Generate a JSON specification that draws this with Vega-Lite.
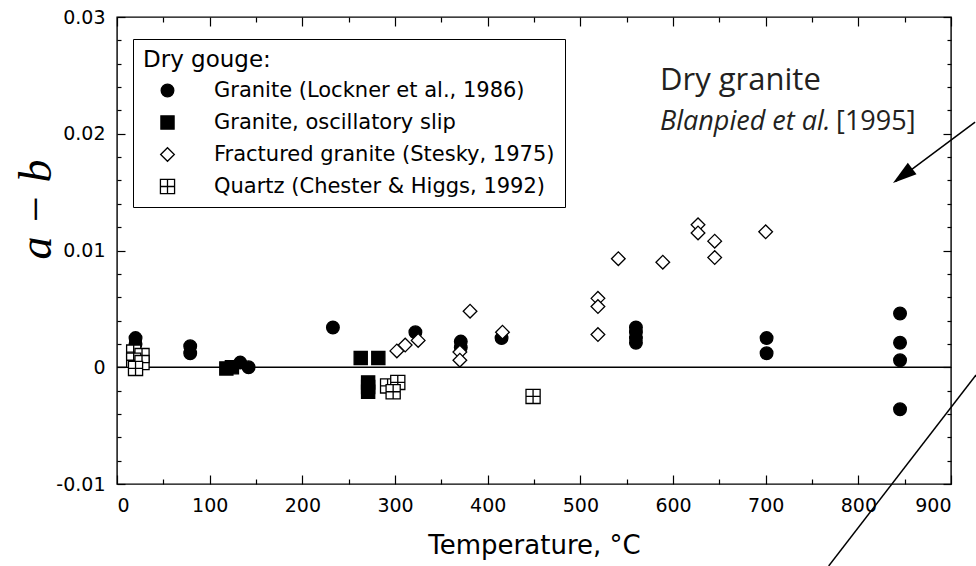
{
  "$schema": "https://vega.github.io/schema/vega-lite/v6.json",
  "width": 834,
  "height": 467,
  "autosize": {"type": "none"},
  "padding": {"left": 117, "top": 17, "right": 25, "bottom": 82},
  "background": "white",
  "config": {
    "view": {"stroke": "black", "strokeWidth": 1.4},
    "axis": {"grid": false, "domain": false, "labelFont": "DejaVu Sans", "labelFontSize": 19, "labelColor": "black", "tickColor": "black", "tickWidth": 1.2, "titleColor": "black"},
    "legend": {"titleFont": "DejaVu Sans", "titleFontSize": 23, "titleFontWeight": "normal", "titleColor": "black", "titlePadding": 8,
      "labelFont": "DejaVu Sans", "labelFontSize": 21, "labelColor": "black", "labelLimit": 600, "symbolOffset": 14, "labelOffset": 36, "rowPadding": 10, "padding": 10,
      "symbolStrokeColor": "black", "symbolStrokeWidth": 1.3, "fillColor": "white", "strokeColor": "black", "cornerRadius": 0}
  },
  "datasets": {
    "pts": [
      {"x": 20, "y": 0.0025, "series": "Granite (Lockner et al., 1986)"},
      {"x": 20, "y": 0.002, "series": "Granite (Lockner et al., 1986)"},
      {"x": 79, "y": 0.0018, "series": "Granite (Lockner et al., 1986)"},
      {"x": 79, "y": 0.0012, "series": "Granite (Lockner et al., 1986)"},
      {"x": 133, "y": 0.0004, "series": "Granite (Lockner et al., 1986)"},
      {"x": 142, "y": 0.0, "series": "Granite (Lockner et al., 1986)"},
      {"x": 233, "y": 0.0034, "series": "Granite (Lockner et al., 1986)"},
      {"x": 322, "y": 0.003, "series": "Granite (Lockner et al., 1986)"},
      {"x": 371, "y": 0.0022, "series": "Granite (Lockner et al., 1986)"},
      {"x": 371, "y": 0.0017, "series": "Granite (Lockner et al., 1986)"},
      {"x": 415, "y": 0.0025, "series": "Granite (Lockner et al., 1986)"},
      {"x": 560, "y": 0.0034, "series": "Granite (Lockner et al., 1986)"},
      {"x": 560, "y": 0.003, "series": "Granite (Lockner et al., 1986)"},
      {"x": 560, "y": 0.0025, "series": "Granite (Lockner et al., 1986)"},
      {"x": 560, "y": 0.0021, "series": "Granite (Lockner et al., 1986)"},
      {"x": 701, "y": 0.0025, "series": "Granite (Lockner et al., 1986)"},
      {"x": 701, "y": 0.0012, "series": "Granite (Lockner et al., 1986)"},
      {"x": 845, "y": 0.0046, "series": "Granite (Lockner et al., 1986)"},
      {"x": 845, "y": 0.0021, "series": "Granite (Lockner et al., 1986)"},
      {"x": 845, "y": 0.0006, "series": "Granite (Lockner et al., 1986)"},
      {"x": 845, "y": -0.0036, "series": "Granite (Lockner et al., 1986)"},
      {"x": 118, "y": -0.0001, "series": "Granite, oscillatory slip"},
      {"x": 124, "y": 0.0, "series": "Granite, oscillatory slip"},
      {"x": 263, "y": 0.0008, "series": "Granite, oscillatory slip"},
      {"x": 282, "y": 0.0008, "series": "Granite, oscillatory slip"},
      {"x": 271, "y": -0.0013, "series": "Granite, oscillatory slip"},
      {"x": 271, "y": -0.0017, "series": "Granite, oscillatory slip"},
      {"x": 271, "y": -0.0021, "series": "Granite, oscillatory slip"},
      {"x": 18, "y": 0.0013, "series": "Quartz (Chester & Higgs, 1992)"},
      {"x": 27, "y": 0.001, "series": "Quartz (Chester & Higgs, 1992)"},
      {"x": 18, "y": 0.0006, "series": "Quartz (Chester & Higgs, 1992)"},
      {"x": 27, "y": 0.0004, "series": "Quartz (Chester & Higgs, 1992)"},
      {"x": 20, "y": -0.0001, "series": "Quartz (Chester & Higgs, 1992)"},
      {"x": 292, "y": -0.0016, "series": "Quartz (Chester & Higgs, 1992)"},
      {"x": 303, "y": -0.0013, "series": "Quartz (Chester & Higgs, 1992)"},
      {"x": 298, "y": -0.0021, "series": "Quartz (Chester & Higgs, 1992)"},
      {"x": 449, "y": -0.0025, "series": "Quartz (Chester & Higgs, 1992)"},
      {"x": 302, "y": 0.0014, "series": "Fractured granite (Stesky, 1975)"},
      {"x": 311, "y": 0.0019, "series": "Fractured granite (Stesky, 1975)"},
      {"x": 325, "y": 0.0023, "series": "Fractured granite (Stesky, 1975)"},
      {"x": 381, "y": 0.0048, "series": "Fractured granite (Stesky, 1975)"},
      {"x": 370, "y": 0.0013, "series": "Fractured granite (Stesky, 1975)"},
      {"x": 370, "y": 0.0006, "series": "Fractured granite (Stesky, 1975)"},
      {"x": 416, "y": 0.003, "series": "Fractured granite (Stesky, 1975)"},
      {"x": 519, "y": 0.0059, "series": "Fractured granite (Stesky, 1975)"},
      {"x": 519, "y": 0.0052, "series": "Fractured granite (Stesky, 1975)"},
      {"x": 519, "y": 0.0028, "series": "Fractured granite (Stesky, 1975)"},
      {"x": 541, "y": 0.0093, "series": "Fractured granite (Stesky, 1975)"},
      {"x": 589, "y": 0.009, "series": "Fractured granite (Stesky, 1975)"},
      {"x": 627, "y": 0.0122, "series": "Fractured granite (Stesky, 1975)"},
      {"x": 627, "y": 0.0115, "series": "Fractured granite (Stesky, 1975)"},
      {"x": 645, "y": 0.0108, "series": "Fractured granite (Stesky, 1975)"},
      {"x": 645, "y": 0.0094, "series": "Fractured granite (Stesky, 1975)"},
      {"x": 700, "y": 0.0116, "series": "Fractured granite (Stesky, 1975)"}
    ],
    "lines": [
      {"id": "arrow", "x": 926, "y": 0.021},
      {"id": "arrow", "x": 840, "y": 0.0159},
      {"id": "slash", "x": 927, "y": -0.00066},
      {"id": "slash", "x": 768, "y": -0.01702}
    ]
  },
  "resolve": {"axis": {"x": "independent", "y": "independent"}},
  "layer": [
    {
      "data": {"values": [{}]},
      "mark": {"type": "rule", "color": "black", "strokeWidth": 1.3},
      "encoding": {
        "y": {"datum": 0, "type": "quantitative", "scale": {"domain": [-0.01, 0.03], "nice": false, "zero": false}, "axis": null}
      }
    },
    {
      "data": {"name": "pts"},
      "mark": {"type": "point", "filled": true, "strokeWidth": 1.3, "opacity": 1},
      "encoding": {
        "x": {"field": "x", "type": "quantitative", "scale": {"domain": [0, 900], "nice": false, "zero": false},
          "axis": {"orient": "bottom", "values": [0, 100, 200, 300, 400, 500, 600, 700, 800, 900], "format": "d", "ticks": false, "labelPadding": 12, "labelBaseline": "top", "title": "Temperature, °C", "titleFont": "DejaVu Sans", "titleFontSize": 26, "titleFontWeight": "normal", "titleBaseline": "middle", "titleY": 61}},
        "y": {"field": "y", "type": "quantitative", "scale": {"domain": [-0.01, 0.03], "nice": false, "zero": false},
          "axis": {"orient": "left", "values": [-0.01, 0, 0.01, 0.02, 0.03], "labelExpr": "datum.value == 0 ? '0' : replace(format(datum.value, '.2f'), '\u2212', '-')", "ticks": false, "labelPadding": 12,
            "title": "a \u2212 b", "titleFont": "Liberation Serif", "titleFontStyle": "italic", "titleFontWeight": "normal", "titleFontSize": 46, "titleAngle": 270, "titleAlign": "center", "titleBaseline": "alphabetic", "titleX": -67, "titleY": 192}},
        "shape": {"field": "series", "type": "nominal",
          "scale": {"domain": ["Granite (Lockner et al., 1986)", "Granite, oscillatory slip", "Fractured granite (Stesky, 1975)", "Quartz (Chester & Higgs, 1992)"],
            "range": ["circle", "square", "diamond", "M-1,-1H1V1H-1Z M0,-1V1 M-1,0H1"]},
          "legend": {"title": "Dry gouge:", "orient": "none", "legendX": 16, "legendY": 22}},
        "fill": {"field": "series", "type": "nominal",
          "scale": {"domain": ["Granite (Lockner et al., 1986)", "Granite, oscillatory slip", "Fractured granite (Stesky, 1975)", "Quartz (Chester & Higgs, 1992)"],
            "range": ["black", "black", "white", "white"]},
          "legend": {"title": "Dry gouge:", "orient": "none", "legendX": 16, "legendY": 22}},
        "stroke": {"field": "series", "type": "nominal",
          "scale": {"domain": ["Granite (Lockner et al., 1986)", "Granite, oscillatory slip", "Fractured granite (Stesky, 1975)", "Quartz (Chester & Higgs, 1992)"],
            "range": ["black", "black", "black", "black"]},
          "legend": {"title": "Dry gouge:", "orient": "none", "legendX": 16, "legendY": 22}},
        "size": {"field": "series", "type": "nominal",
          "scale": {"domain": ["Granite (Lockner et al., 1986)", "Granite, oscillatory slip", "Fractured granite (Stesky, 1975)", "Quartz (Chester & Higgs, 1992)"],
            "range": [160, 200, 360, 170]},
          "legend": {"title": "Dry gouge:", "orient": "none", "legendX": 16, "legendY": 22}}
      }
    },
    {
      "data": {"name": "pts"},
      "mark": {"type": "point", "opacity": 0},
      "encoding": {
        "x": {"field": "x", "type": "quantitative", "scale": {"domain": [0, 900], "nice": false, "zero": false},
          "axis": {"orient": "bottom", "values": [0, 100, 200, 300, 400, 500, 600, 700, 800, 900], "labels": false, "tickSize": -9, "title": null}},
        "y": {"field": "y", "type": "quantitative", "scale": {"domain": [-0.01, 0.03], "nice": false, "zero": false},
          "axis": {"orient": "left", "values": [-0.01, 0, 0.01, 0.02, 0.03], "labels": false, "tickSize": -8, "title": null}}
      }
    },
    {
      "data": {"name": "pts"},
      "mark": {"type": "point", "opacity": 0},
      "encoding": {
        "x": {"field": "x", "type": "quantitative", "scale": {"domain": [0, 900], "nice": false, "zero": false},
          "axis": {"orient": "bottom", "values": [50, 150, 250, 350, 450, 550, 650, 750, 850], "labels": false, "tickSize": -5, "title": null}},
        "y": {"field": "y", "type": "quantitative", "scale": {"domain": [-0.01, 0.03], "nice": false, "zero": false},
          "axis": {"orient": "left", "values": [-0.008, -0.006, -0.004, -0.002, 0.002, 0.004, 0.006, 0.008, 0.012, 0.014, 0.016, 0.018, 0.022, 0.024, 0.026, 0.028], "labels": false, "tickSize": -4, "title": null}}
      }
    },
    {
      "data": {"name": "pts"},
      "mark": {"type": "point", "opacity": 0},
      "encoding": {
        "x": {"field": "x", "type": "quantitative", "scale": {"domain": [0, 900], "nice": false, "zero": false},
          "axis": {"orient": "top", "values": [0, 100, 200, 300, 400, 500, 600, 700, 800, 900], "labels": false, "tickSize": -9, "title": null}},
        "y": {"field": "y", "type": "quantitative", "scale": {"domain": [-0.01, 0.03], "nice": false, "zero": false},
          "axis": {"orient": "right", "values": [-0.01, 0, 0.01, 0.02, 0.03], "labels": false, "tickSize": -8, "title": null}}
      }
    },
    {
      "data": {"name": "pts"},
      "mark": {"type": "point", "opacity": 0},
      "encoding": {
        "x": {"field": "x", "type": "quantitative", "scale": {"domain": [0, 900], "nice": false, "zero": false},
          "axis": {"orient": "top", "values": [50, 150, 250, 350, 450, 550, 650, 750, 850], "labels": false, "tickSize": -5, "title": null}},
        "y": {"field": "y", "type": "quantitative", "scale": {"domain": [-0.01, 0.03], "nice": false, "zero": false},
          "axis": {"orient": "right", "values": [-0.008, -0.006, -0.004, -0.002, 0.002, 0.004, 0.006, 0.008, 0.012, 0.014, 0.016, 0.018, 0.022, 0.024, 0.026, 0.028], "labels": false, "tickSize": -4, "title": null}}
      }
    },
    {
      "data": {"name": "lines"},
      "mark": {"type": "line", "color": "black", "strokeWidth": 1.5},
      "encoding": {
        "x": {"field": "x", "type": "quantitative", "scale": {"domain": [0, 900], "nice": false, "zero": false}, "axis": null},
        "y": {"field": "y", "type": "quantitative", "scale": {"domain": [-0.01, 0.03], "nice": false, "zero": false}, "axis": null},
        "detail": {"field": "id"}
      }
    },
    {
      "data": {"values": [{"x": 837.4, "y": 0.01578}]},
      "mark": {"type": "point", "shape": "M0,0L-0.6,2L0.6,2Z", "size": 576, "angle": 233, "filled": true, "fill": "black", "opacity": 1, "strokeWidth": 0},
      "encoding": {
        "x": {"field": "x", "type": "quantitative", "scale": {"domain": [0, 900], "nice": false, "zero": false}, "axis": null},
        "y": {"field": "y", "type": "quantitative", "scale": {"domain": [-0.01, 0.03], "nice": false, "zero": false}, "axis": null}
      }
    },
    {
      "data": {"values": [{"x": 586, "y": 0.0245, "t": "Dry granite"}]},
      "mark": {"type": "text", "align": "left", "baseline": "middle", "font": "Open Sans", "fontSize": 31, "color": "#231f20"},
      "encoding": {
        "x": {"field": "x", "type": "quantitative", "scale": {"domain": [0, 900], "nice": false, "zero": false}, "axis": null},
        "y": {"field": "y", "type": "quantitative", "scale": {"domain": [-0.01, 0.03], "nice": false, "zero": false}, "axis": null},
        "text": {"field": "t"}
      }
    },
    {
      "data": {"values": [{"x": 586, "y": 0.021, "t": "Blanpied et al."}]},
      "mark": {"type": "text", "align": "left", "baseline": "middle", "font": "Open Sans", "fontStyle": "italic", "fontSize": 27, "color": "#231f20"},
      "encoding": {
        "x": {"field": "x", "type": "quantitative", "scale": {"domain": [0, 900], "nice": false, "zero": false}, "axis": null},
        "y": {"field": "y", "type": "quantitative", "scale": {"domain": [-0.01, 0.03], "nice": false, "zero": false}, "axis": null},
        "text": {"field": "t"}
      }
    },
    {
      "data": {"values": [{"x": 776, "y": 0.021, "t": "[1995]"}]},
      "mark": {"type": "text", "align": "left", "baseline": "middle", "font": "Open Sans", "fontSize": 27, "color": "#231f20"},
      "encoding": {
        "x": {"field": "x", "type": "quantitative", "scale": {"domain": [0, 900], "nice": false, "zero": false}, "axis": null},
        "y": {"field": "y", "type": "quantitative", "scale": {"domain": [-0.01, 0.03], "nice": false, "zero": false}, "axis": null},
        "text": {"field": "t"}
      }
    }
  ]
}
